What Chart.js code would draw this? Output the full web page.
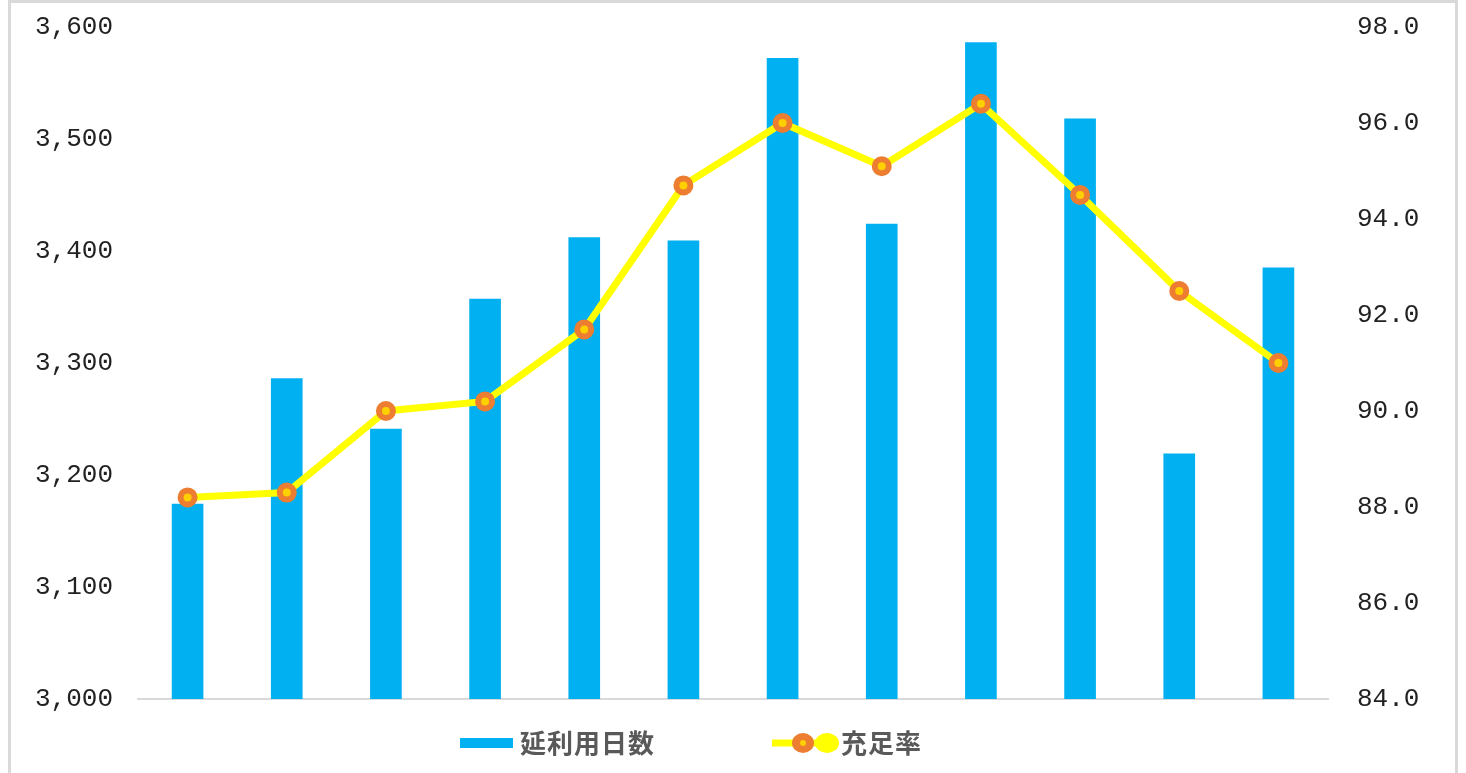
<!DOCTYPE html>
<html>
<head>
<meta charset="utf-8">
<script src="https://cdn.jsdelivr.net/npm/chart.js@4/dist/chart.umd.min.js"></script>
<style>
  html, body { margin: 0; padding: 0; background: #fff; overflow: hidden; }
  #frame { position: absolute; left: 8px; top: 0; width: 1450px; height: 800px; box-sizing: border-box; border: 3px solid #d9d9d9; }
  #chart { position: absolute; left: 0; top: 0; }
</style>
</head>
<body>
<div id="frame"></div>
<canvas id="chart" width="1466" height="773"></canvas>
<script>
// データ
const months = ['4月', '5月', '6月', '7月', '8月', '9月', '10月', '11月', '12月', '1月', '2月', '3月'];
const usageDays = [3174, 3286, 3241, 3357, 3412, 3409, 3572, 3424, 3586, 3518, 3219, 3385];
const fillRate = [88.2, 88.3, 90.0, 90.2, 91.7, 94.7, 96.0, 95.1, 96.4, 94.5, 92.5, 91.0];
const leftTicks = [3000, 3100, 3200, 3300, 3400, 3500, 3600];
const rightTicks = [84, 86, 88, 90, 92, 94, 96, 98];

const tickFont = { family: 'Liberation Mono', size: 26 };

// 縦軸の幅と余白を固定
function fixAxis(s) {
  s.width = 138;
  s.paddingTop = 0;
  s.paddingBottom = 0;
}

// 凡例を下に描く
const bottomLegend = {
  id: 'bottomLegend',
  afterDraw(chart) {
    const ctx = chart.ctx;
    const ds = chart.data.datasets;
    const y = 743;
    ctx.save();
    ctx.font = 'bold 26px "Noto Sans CJK JP"';
    ctx.letterSpacing = '1px';
    ctx.textBaseline = 'middle';

    // 棒
    ctx.fillStyle = ds[1].backgroundColor;
    ctx.fillRect(460, y - 5, 53, 10);
    ctx.fillStyle = '#595959';
    ctx.fillText(ds[1].label, 520, y);

    // 折れ線
    ctx.strokeStyle = ds[0].borderColor;
    ctx.lineWidth = 7;
    ctx.beginPath();
    ctx.moveTo(772, y);
    ctx.lineTo(832, y);
    ctx.stroke();
    ctx.fillStyle = ds[0].pointBorderColor;
    ctx.beginPath();
    ctx.ellipse(803, y, 11, 10, 0, 0, Math.PI * 2);
    ctx.fill();
    ctx.fillStyle = ds[0].pointBackgroundColor;
    ctx.beginPath();
    ctx.arc(803, y, 3, 0, Math.PI * 2);
    ctx.fill();
    ctx.fillStyle = ds[0].borderColor;
    ctx.beginPath();
    ctx.ellipse(827, y, 12, 10, 0, 0, Math.PI * 2);
    ctx.fill();
    ctx.fillStyle = '#595959';
    ctx.fillText(ds[0].label, 841, y);
    ctx.restore();
  }
};

new Chart(document.getElementById('chart'), {
  type: 'bar',
  data: {
    labels: months,
    datasets: [
      {
        type: 'line',
        label: '充足率',
        data: fillRate,
        yAxisID: 'y1',
        borderColor: '#FFFF00',
        borderWidth: 7,
        pointRadius: 7,
        pointBorderWidth: 6,
        pointBorderColor: '#ED7D31',
        pointBackgroundColor: '#FFD000',
        tension: 0,
        order: 0
      },
      {
        label: '延利用日数',
        data: usageDays,
        yAxisID: 'y',
        backgroundColor: '#00B0F0',
        barThickness: 31,
        order: 1
      }
    ]
  },
  options: {
    responsive: false,
    animation: false,
    layout: { padding: { top: 27, bottom: 74, left: 0, right: 0 } },
    plugins: {
      legend: { display: false },
      tooltip: { enabled: false }
    },
    scales: {
      x: {
        grid: { display: false, drawTicks: false },
        border: { display: true, color: '#d9d9d9', width: 2 },
        ticks: { display: false },
        afterFit: s => { s.height = 0; }
      },
      y: {
        position: 'left',
        min: 3000,
        max: 3600,
        afterBuildTicks: s => { s.ticks = leftTicks.map(v => ({ value: v })); },
        grid: { display: false, drawTicks: false },
        border: { display: false },
        ticks: {
          font: tickFont,
          color: '#222',
          padding: 25,
          callback: v => v.toLocaleString('en-US')
        },
        afterFit: fixAxis
      },
      y1: {
        position: 'right',
        min: 84,
        max: 98,
        afterBuildTicks: s => { s.ticks = rightTicks.map(v => ({ value: v })); },
        grid: { display: false, drawTicks: false },
        border: { display: false },
        ticks: {
          font: tickFont,
          color: '#222',
          padding: 29,
          callback: v => v.toFixed(1)
        },
        afterFit: fixAxis
      }
    }
  },
  plugins: [bottomLegend]
});
</script>
</body>
</html>
